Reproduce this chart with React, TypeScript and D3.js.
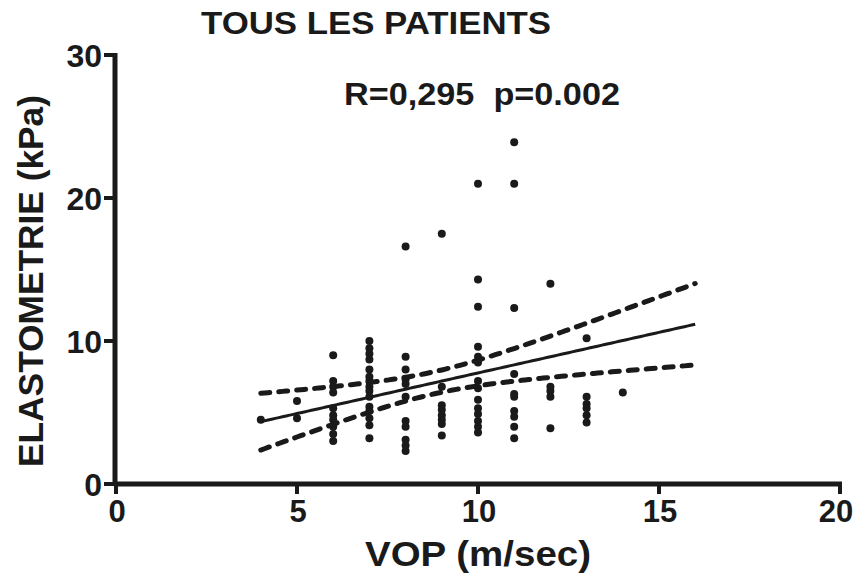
import React from "react";
import * as d3 from "d3";

const title = "TOUS LES PATIENTS";
const statsLabel = "R=0,295  p=0.002";
const xLabel = "VOP (m/sec)";
const yLabel = "ELASTOMETRIE (kPa)";
const xTicks = [0, 5, 10, 15, 20];
const yTicks = [0, 10, 20, 30];

// VOP (m/sec) values and matching elastometry (kPa) values
const vop = [
  4,
  5, 5,
  6, 6, 6, 6, 6, 6, 6, 6, 6, 6,
  7, 7, 7, 7, 7, 7, 7, 7, 7, 7, 7, 7, 7, 7, 7,
  8, 8, 8, 8, 8, 8, 8, 8, 8, 8, 8,
  9, 9, 9, 9, 9, 9, 9, 9,
  10, 10, 10, 10, 10, 10, 10, 10, 10, 10, 10, 10, 10, 10,
  11, 11, 11, 11, 11, 11, 11, 11, 11, 11,
  12, 12, 12, 12, 12,
  13, 13, 13, 13, 13, 13,
  14,
];
const elasto = [
  4.5,
  5.8, 4.6,
  9.0, 7.2, 6.8, 6.4, 5.3, 4.8, 4.5, 4.0, 3.5, 3.0,
  10.0, 9.5, 9.1, 8.7, 8.0, 7.5, 7.2, 6.8, 6.5, 6.1, 5.4, 5.1, 4.6, 4.1, 3.2,
  16.6, 8.9, 8.0, 7.3, 7.0, 6.1, 4.4, 4.0, 3.1, 2.7, 2.3,
  17.5, 6.8, 5.5, 5.2, 4.8, 4.5, 4.2, 3.4,
  21.0, 14.3, 12.4, 9.6, 8.9, 8.5, 7.2, 6.7, 5.9, 5.3, 4.9, 4.4, 4.0, 3.6,
  23.9, 21.0, 12.3, 7.7, 6.3, 6.1, 5.1, 4.7, 4.0, 3.2,
  14.0, 6.8, 6.5, 6.1, 3.9,
  10.2, 6.1, 5.6, 5.3, 4.8, 4.3,
  6.4,
];

// regression as drawn in the reference
const fitRange = [4, 16];
const fitSlope = 0.5675;
const fitIntercept = 2.09;
// 95% confidence band: half-width = sqrt(A + B (x - xMean)^2)
const bandXMean = 8.8;
const bandA = 0.6;
const bandB = 0.145;

const W = 856;
const H = 578;

export default function App() {
  const x = d3.scaleLinear().domain([0, 20]).range([116, 840]);
  const y = d3.scaleLinear().domain([0, 30]).range([484, 55]);

  const xs = d3.range(fitRange[0], fitRange[1] + 0.0001, 0.1);
  const fit = (v: number) => fitIntercept + fitSlope * v;
  const half = (v: number) => Math.sqrt(bandA + bandB * (v - bandXMean) ** 2);
  const line = d3
    .line<[number, number]>()
    .x((d) => x(d[0]))
    .y((d) => y(d[1]));
  const fitPath = line(xs.map((v) => [v, fit(v)]));
  const upPath = line(xs.map((v) => [v, fit(v) + half(v)]));
  const loPath = line(xs.map((v) => [v, fit(v) - half(v)]));

  const font = "'Liberation Sans', Arial, Helvetica, sans-serif";
  const col = "#1a1a1a";

  return (
    <svg
      width={W}
      height={H}
      style={{ position: "absolute", left: 0, top: 0, background: "#fff" }}
      fontFamily={font}
      fontWeight="bold"
    >
      <rect width={W} height={H} fill="#fff" />
      <text x={201} y={34} fontSize={31} fill={col} textLength={350} lengthAdjust="spacingAndGlyphs">
        {title}
      </text>
      <text
        x={344}
        y={105}
        fontSize={31}
        fill={col}
        textLength={276}
        lengthAdjust="spacingAndGlyphs"
        style={{ whiteSpace: "pre" }}
      >
        {statsLabel}
      </text>

      {/* axes */}
      <line x1={x(0) - 2} x2={x(20) + 2} y1={y(0)} y2={y(0)} stroke={col} strokeWidth={5} />
      <line x1={x(0) - 1} x2={x(0) - 1} y1={y(0) + 2} y2={y(30) - 2} stroke={col} strokeWidth={5} />
      {xTicks.map((v) => (
        <g key={"xt" + v}>
          <line x1={x(v)} x2={x(v)} y1={y(0)} y2={y(0) + 10} stroke={col} strokeWidth={4} />
          <text
            x={Math.min(x(v) + 1, W - 20)}
            y={y(0) + 38}
            textAnchor="middle"
            fontSize={31}
            fill={col}
          >
            {v}
          </text>
        </g>
      ))}
      {yTicks.map((v) => (
        <g key={"yt" + v}>
          <line x1={x(0) - 1} x2={x(0) - 12} y1={y(v)} y2={y(v)} stroke={col} strokeWidth={4} />
          <text x={x(0) - 14} y={y(v) + 12} textAnchor="end" fontSize={32} fill={col}>
            {v}
          </text>
        </g>
      ))}
      <text x={478} y={566} textAnchor="middle" fontSize={35} fill={col} textLength={226} lengthAdjust="spacingAndGlyphs">
        {xLabel}
      </text>
      <text
        transform={`translate(43, 281) rotate(-90)`}
        textAnchor="middle"
        fontSize={35}
        fill={col}
        textLength={372}
        lengthAdjust="spacingAndGlyphs"
      >
        {yLabel}
      </text>

      {/* points */}
      {vop.map((v, i) => (
        <circle key={"p" + i} cx={x(v)} cy={y(elasto[i])} r={4} fill={col} />
      ))}

      {/* fit */}
      <path d={fitPath ?? ""} fill="none" stroke={col} strokeWidth={3} />
      <path d={upPath ?? ""} fill="none" stroke={col} strokeWidth={5} strokeDasharray="9 9" strokeLinecap="round" />
      <path d={loPath ?? ""} fill="none" stroke={col} strokeWidth={5} strokeDasharray="9 9" strokeLinecap="round" />
    </svg>
  );
}
